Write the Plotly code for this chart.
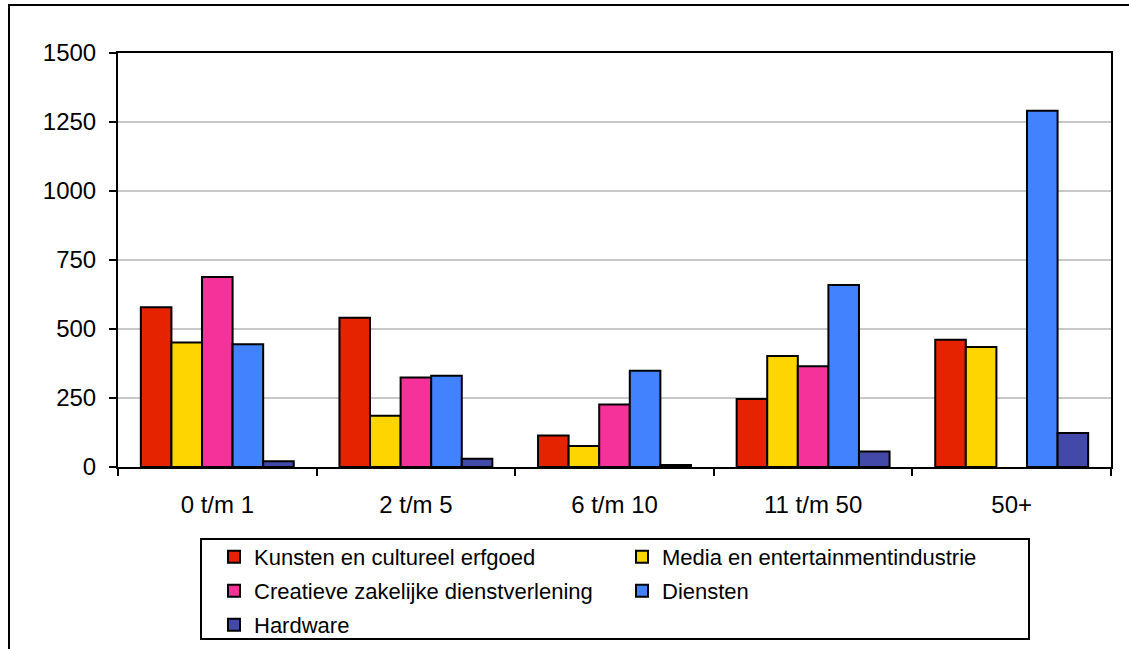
import plotly.graph_objects as go

categories = ["0 t/m 1", "2 t/m 5", "6 t/m 10", "11 t/m 50", "50+"]
series_names = [
    "Kunsten en cultureel erfgoed",
    "Media en entertainmentindustrie",
    "Creatieve zakelijke dienstverlening",
    "Diensten",
    "Hardware",
]
kunsten = [579, 541, 114, 246, 461]
media = [451, 186, 76, 402, 435]
creatieve = [688, 324, 226, 365, None]
diensten = [445, 331, 349, 659, 1291]
hardware = [21, 30, 7, 56, 123]
y_ticks = [0, 250, 500, 750, 1000, 1250, 1500]

colors = ["#E52300", "#FFD500", "#F5319A", "#4282FF", "#4249A8"]
values = [kunsten, media, creatieve, diensten, hardware]
legend_ids = ["legend", "legend", "legend2", "legend2", "legend3"]

W, H = 1129, 649
L, R, T, B = 118, 1111, 53, 467
PW, PH = R - L, B - T

def px_x(x):
    return (x - L) / PW

def px_y(y):
    return (B - y) / PH

def cx(x):
    return x / W

def cy(y):
    return 1 - y / H

FONT = "Liberation Sans, Arial, sans-serif"

fig = go.Figure()
for name, vals, col, lg in zip(series_names, values, colors, legend_ids):
    fig.add_trace(go.Bar(
        x=categories, y=vals, name=name, legend=lg,
        marker=dict(color=col, line=dict(color="black", width=2)),
    ))

legend_common = dict(
    orientation="h", xanchor="left", yanchor="middle",
    xref="container", yref="container",
    bgcolor="rgba(0,0,0,0)", borderwidth=0,
    font=dict(family=FONT, size=22, color="black"),
    entrywidth=363, entrywidthmode="pixels", itemclick=False,
    traceorder="normal",
)

fig.update_layout(
    width=W, height=H,
    margin=dict(l=L, r=W - R, t=T, b=H - B, autoexpand=False),
    paper_bgcolor="white", plot_bgcolor="white",
    barmode="group", bargap=0.23, bargroupgap=0,
    font=dict(family=FONT, size=24, color="black"),
    showlegend=True,
    legend=dict(x=cx(214), y=cy(557), **legend_common),
    legend2=dict(x=cx(214), y=cy(591), **legend_common),
    legend3=dict(x=cx(214), y=cy(625), **legend_common),
    xaxis=dict(
        type="category", showline=True, linecolor="black", linewidth=2,
        mirror=True, ticks="outside", tickson="boundaries", ticklen=7,
        tickwidth=2, tickcolor="black", showgrid=False,
        tickfont=dict(family=FONT, size=24, color="black"),
        ticklabelstandoff=15,
    ),
    yaxis=dict(
        range=[0, 1500], tickvals=y_ticks, showline=True, linecolor="black",
        linewidth=2, mirror=True, ticks="outside", ticklen=7, tickwidth=2,
        tickcolor="black", showgrid=True, gridcolor="#C8C8C8", gridwidth=2,
        zeroline=False, tickfont=dict(family=FONT, size=24, color="black"),
        ticklabelstandoff=8,
    ),
    shapes=[
        dict(type="rect", xref="paper", yref="paper",
             x0=px_x(9), x1=px_x(1140), y0=px_y(660), y1=px_y(5),
             line=dict(color="black", width=2), fillcolor="rgba(0,0,0,0)"),
        dict(type="rect", xref="paper", yref="paper",
             x0=px_x(201), x1=px_x(1029), y0=px_y(639), y1=px_y(539),
             line=dict(color="black", width=2), fillcolor="rgba(0,0,0,0)"),
    ],
)

fig.write_html(
    "out.html",
    config={"displayModeBar": False},
    post_script="document.body.style.margin='0';",
)
